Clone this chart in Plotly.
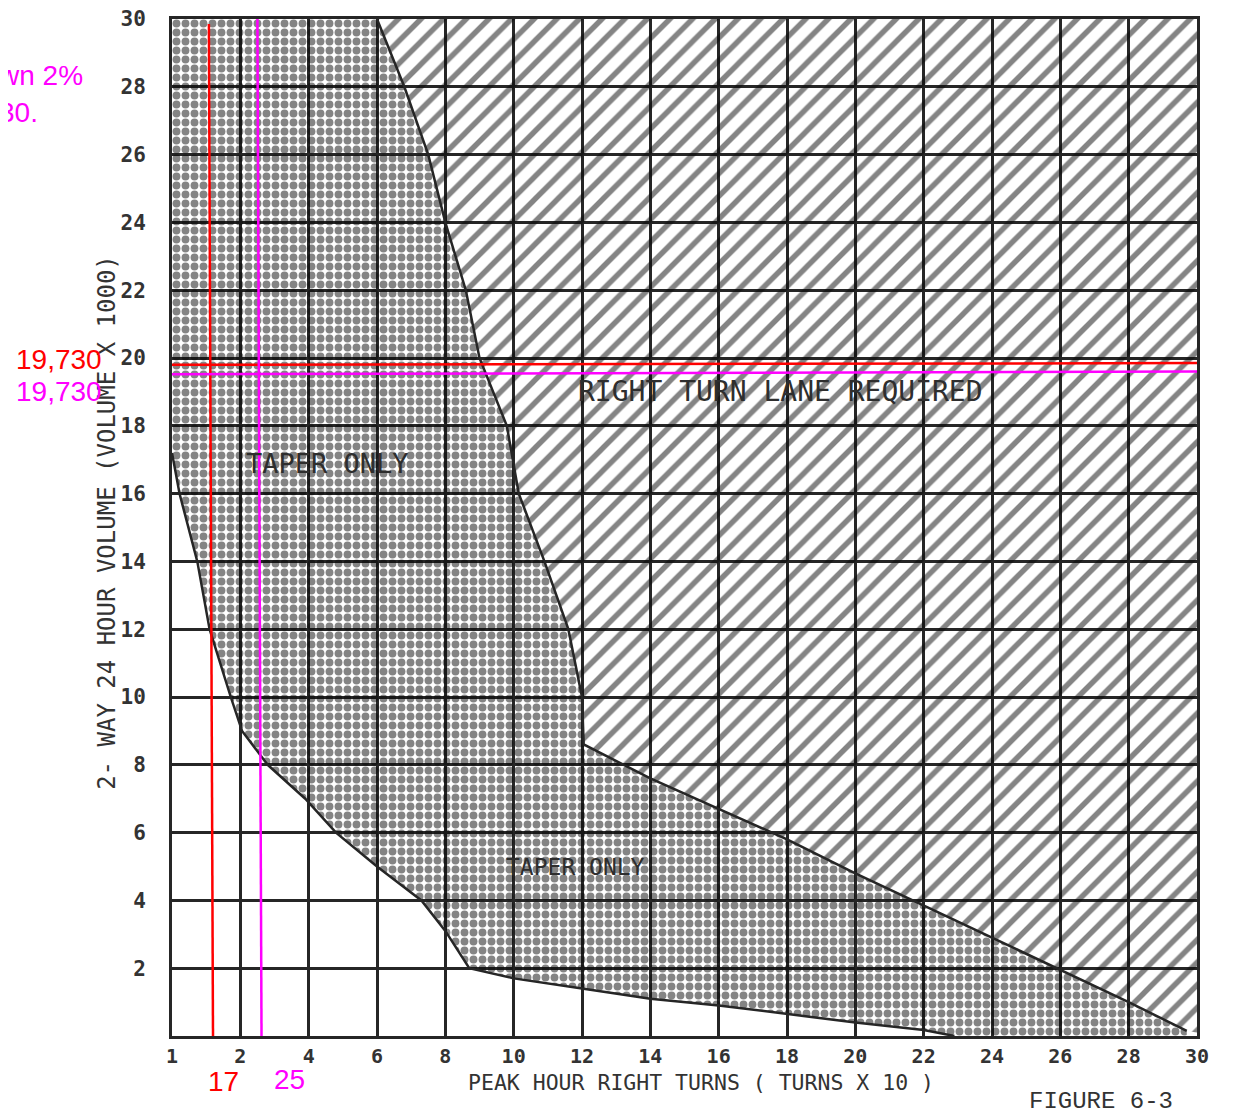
import plotly.graph_objects as go

# axis ticks (the scan labels the left edge "1")
x_ticks = [0, 2, 4, 6, 8, 10, 12, 14, 16, 18, 20, 22, 24, 26, 28, 30]
x_tick_text = ["1", "2", "4", "6", "8", "10", "12", "14", "16", "18", "20", "22", "24", "26", "28", "30"]
y_ticks = [2, 4, 6, 8, 10, 12, 14, 16, 18, 20, 22, 24, 26, 28, 30]

# white / taper-only boundary (left curve, then the low edge along the bottom)
taper_curve_x = [0.0, 0.22, 0.74, 1.1, 1.72, 2.05, 2.8, 3.9, 4.8, 6.0, 7.3, 8.0, 8.7]
taper_curve_y = [17.2, 16.0, 14.0, 12.0, 10.0, 9.0, 8.0, 7.0, 6.0, 5.0, 4.0, 3.1, 2.0]
taper_bottom_x = [8.7, 10, 12, 14, 16, 18, 20, 22, 22.9]
taper_bottom_y = [2.0, 1.7, 1.4, 1.1, 0.9, 0.65, 0.4, 0.18, 0.0]

# taper-only / right-turn-lane boundary
lane_edge_x = [6.0, 6.8, 7.5, 8.0, 8.6, 9.0, 9.8, 10.15, 10.9, 11.6, 12.0, 12.05]
lane_edge_y = [30, 28, 26, 24, 22, 20, 18, 16, 14, 12, 10, 8.6]
lane_diag_x = [12.05, 14, 16, 18, 20, 22, 24, 26, 28, 29.7]
lane_diag_y = [8.6, 7.6, 6.7, 5.8, 4.8, 3.85, 2.9, 1.95, 1.0, 0.15]

# hand-drawn reading lines
red_v_x = [1.08, 1.2]
red_v_y = [29.85, 0.0]
red_h_x = [-0.3, 30]
red_h_y = [19.8, 19.85]
mag_v_x = [2.5, 2.62]
mag_v_y = [30.0, 0.0]
mag_h_x = [0.0, 30.3]
mag_h_y = [19.52, 19.6]

INK = "#262626"

fig = go.Figure()

# dotted "taper only" area
dot_x = [0, 6] + lane_edge_x[1:] + lane_diag_x[1:] + [29.7] + taper_bottom_x[::-1] + taper_curve_x[::-1][1:] + [0]
dot_y = [30, 30] + lane_edge_y[1:] + lane_diag_y[1:] + [0] + taper_bottom_y[::-1] + taper_curve_y[::-1][1:] + [30]
fig.add_trace(go.Scatter(
    x=dot_x, y=dot_y, mode="lines", fill="toself", line=dict(width=0),
    fillcolor="rgba(0,0,0,0)",
    fillpattern=dict(shape=".", size=9, solidity=0.6, fgcolor="#0a0a0a", bgcolor="rgba(0,0,0,0)"),
    hoverinfo="skip", showlegend=False))

# hatched "right turn lane required" area
hat_x = lane_edge_x + lane_diag_x[1:] + [30, 30, 6]
hat_y = lane_edge_y + lane_diag_y[1:] + [0.1, 30, 30]
fig.add_trace(go.Scatter(
    x=hat_x, y=hat_y, mode="lines", fill="toself", line=dict(width=0),
    fillcolor="rgba(0,0,0,0)",
    fillpattern=dict(shape="/", size=16, solidity=0.34, fgcolor="#0a0a0a", bgcolor="rgba(0,0,0,0)"),
    hoverinfo="skip", showlegend=False))

# region outlines
fig.add_trace(go.Scatter(x=taper_curve_x + taper_bottom_x[1:], y=taper_curve_y + taper_bottom_y[1:],
                         mode="lines", line=dict(color=INK, width=2.5), hoverinfo="skip", showlegend=False))
fig.add_trace(go.Scatter(x=lane_edge_x + lane_diag_x[1:], y=lane_edge_y + lane_diag_y[1:],
                         mode="lines", line=dict(color=INK, width=2.5), hoverinfo="skip", showlegend=False))

# reading lines
for lx, ly, col in [(red_v_x, red_v_y, "#ff0000"), (red_h_x, red_h_y, "#ff0000"),
                    (mag_v_x, mag_v_y, "#ff00ff"), (mag_h_x, mag_h_y, "#ff00ff")]:
    fig.add_trace(go.Scatter(x=lx, y=ly, mode="lines", line=dict(color=col, width=2.5),
                             cliponaxis=False, hoverinfo="skip", showlegend=False))

label_font = dict(family="DejaVu Sans Mono", color="#2e2e2e")
fig.add_annotation(x=4.55, y=16.9, text="TAPER ONLY", showarrow=False, font=dict(size=27, **label_font))
fig.add_annotation(x=17.8, y=19.0, text="RIGHT TURN LANE REQUIRED", showarrow=False, font=dict(size=28, **label_font))
fig.add_annotation(x=11.8, y=5.0, text="TAPER ONLY", showarrow=False, font=dict(size=23, **label_font))

mono = "DejaVu Sans Mono"


def note(x, y, text, size, color, family, xanchor="center", angle=0):
    fig.add_annotation(xref="paper", yref="paper", x=x, y=y, xanchor=xanchor, yanchor="middle",
                       text=text, textangle=angle, showarrow=False,
                       font=dict(family=family, size=size, color=color))


note(0.516, -0.046, "PEAK HOUR RIGHT TURNS ( TURNS X 10 )", 21.5, "#333333", mono)
note(-0.063, 0.505, "2- WAY 24 HOUR VOLUME (VOLUME X 1000)", 24, "#333333", mono, angle=-90)
note(0.906, -0.064, "FIGURE 6-3", 24, "#333333", "Liberation Mono")

arial = "Liberation Sans"
note(-0.066, 0.665, "19,730", 28, "#ff0000", arial, xanchor="right")
note(-0.066, 0.634, "19,730", 28, "#ff00ff", arial, xanchor="right")
note(0.05, -0.045, "17", 28, "#ff0000", arial)
note(0.1145, -0.043, "25", 28, "#ff00ff", arial)
note(-0.085, 0.944, "wn 2%", 28, "#ff00ff", arial, xanchor="right")
note(-0.129, 0.908, "30.", 28, "#ff00ff", arial, xanchor="right")

fig.update_xaxes(range=[0, 30], tickvals=x_ticks, ticktext=x_tick_text, automargin=False,
                 ticklabeloverflow="allow",
                 showgrid=True, gridcolor=INK, gridwidth=3, zeroline=False,
                 showline=True, linecolor=INK, linewidth=3, mirror=True, ticks="",
                 tickfont=dict(family=mono, size=20, color="#333333", weight="bold"))
fig.update_yaxes(range=[0, 30], tickvals=y_ticks, automargin=False,
                 ticklabeloverflow="allow",
                 showgrid=True, gridcolor=INK, gridwidth=3, zeroline=False,
                 showline=True, linecolor=INK, linewidth=3, mirror=True, ticks="",
                 ticklabelstandoff=19,
                 tickfont=dict(family=mono, size=21, color="#333333", weight="bold"))

fig.update_layout(width=1237, height=1114, margin=dict(l=164, r=48, t=11, b=86),
                  plot_bgcolor="white", paper_bgcolor="white")

fig.write_html("out.html")
